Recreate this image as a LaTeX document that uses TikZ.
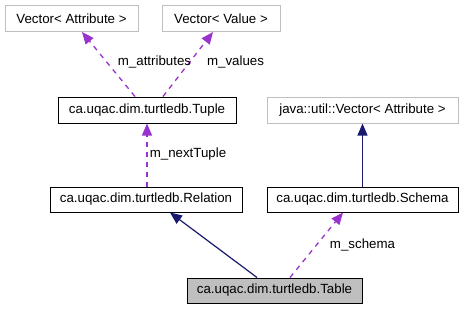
\documentclass[tikz,border=0pt]{standalone}
\usepackage{fontspec}
\setmainfont{Liberation Sans}
\usetikzlibrary{arrows.meta}
\definecolor{inhblue}{HTML}{191970}
\definecolor{usepurple}{HTML}{9A32CD}
\definecolor{boxgray}{HTML}{BFBFBF}

\begin{document}
\begin{tikzpicture}[x=1pt, y=-1pt, inner sep=0pt,
  font=\fontsize{13.3}{15}\selectfont,
  cls/.style={draw=black, line width=1pt, minimum height=25pt},
  ext/.style={draw=boxgray, line width=1pt, minimum height=26pt},
  inh/.style={draw=inhblue, line width=1.2pt, -{Triangle[length=12pt,width=10pt]}, color=inhblue},
  usage/.style={draw=usepurple, line width=1.3pt, dash pattern=on 5pt off 5pt,
    -{Triangle[length=12pt,width=10pt]}, color=usepurple},
%  lbl/.style={fill=white}
  ]
  \useasboundingbox (0,0) rectangle (464,309);

  \node [ext, minimum width=133pt] (vattr) at (71.5,18.5) {Vector< Attribute >};
  \node [ext, minimum width=118pt] (vval) at (221,18.5) {Vector< Value >};
  \node [cls, minimum width=178pt, minimum height=26pt] (tuple) at (147,110) {ca.uqac.dim.turtledb.Tuple};
  \node [ext, minimum width=191pt] (jvec) at (362.5,110) {java::util::Vector< Attribute >};
  \node [cls, minimum width=192pt] (relation) at (146,199.5) {ca.uqac.dim.turtledb.Relation};
  \node [cls, minimum width=191pt] (schema) at (362.5,199.5) {ca.uqac.dim.turtledb.Schema};
  \node [cls, minimum width=175pt, fill=boxgray] (table) at (274.5,290.5) {ca.uqac.dim.turtledb.Table};

  % members
  \draw [usage] ([xshift=-12pt]tuple.north) -- ([xshift=10.5pt]vattr.south);
  \draw [usage] ([xshift=16pt]tuple.north) -- ([xshift=-8pt]vval.south);
  \draw [usage] (tuple.south |- relation.north) -- (tuple.south);
  \draw [usage] ([xshift=15.5pt]table.north) -- ([xshift=-19.5pt]schema.south);
  \node (lattr) at (154.5,62) {m\_attributes};
  \node (lval) at (235.5,62) {m\_values};
  \node (lnext) at (188,154) {m\_nextTuple};
  \node (lschema) at (362.5,245) {m\_schema};

  % inheritance
  \draw [inh] (schema) -- (jvec);
  \draw [inh] ([xshift=-17.5pt]table.north) -- ([xshift=24pt]relation.south);
\end{tikzpicture}
\end{document}
